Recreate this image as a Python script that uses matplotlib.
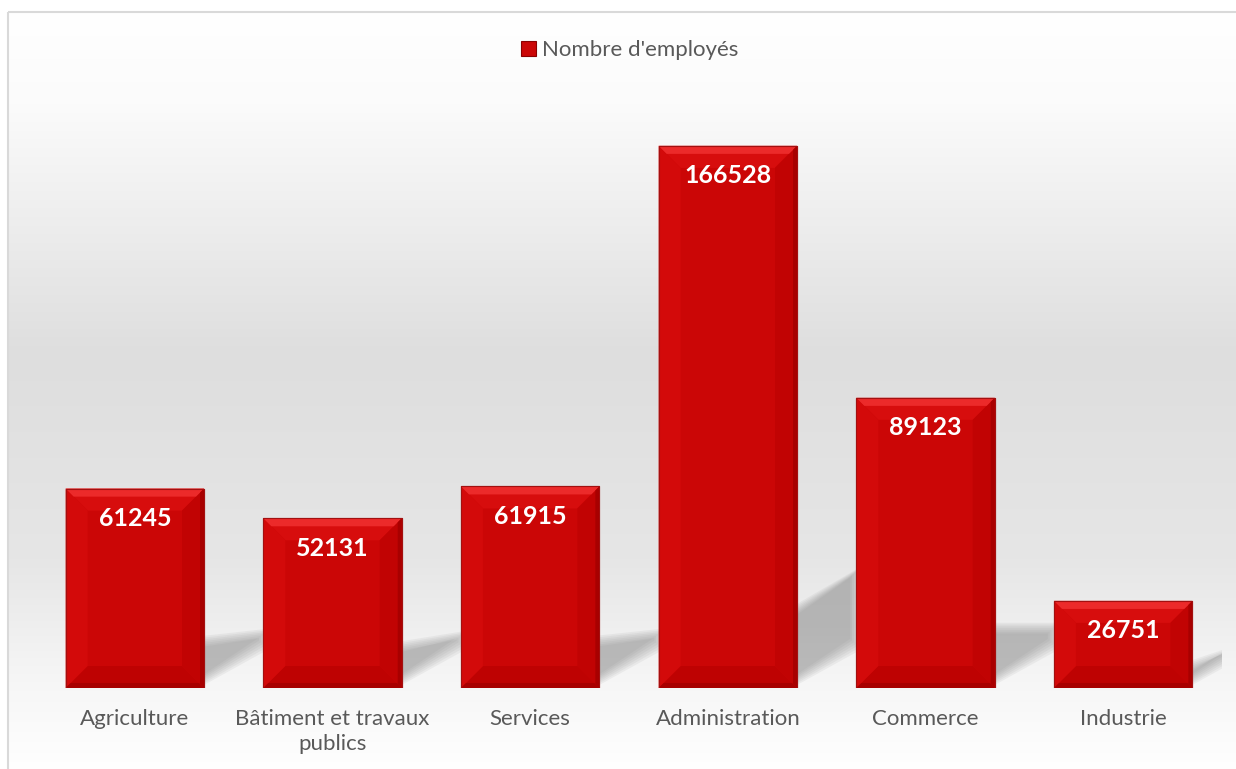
import matplotlib
matplotlib.use('Agg')
import matplotlib.pyplot as plt, numpy as np
from matplotlib.patches import Polygon, Rectangle
from matplotlib.colors import LinearSegmentedColormap

# Data
categories = ['Agriculture', 'Bâtiment et travaux\npublics', 'Services',
	'Administration', 'Commerce', 'Industrie']
employees = [61245, 52131, 61915, 166528, 89123, 26751]
series_name = "Nombre d'employés"

plt.rcParams['font.family'] = ['Lato', 'DejaVu Sans']

W, H = 1236, 769
fig = plt.figure(figsize=(W/100, H/100), dpi=100)

# Background: chart area gradient (white -> grey -> white) and thin border
bg = fig.add_axes([0, 0, 1, 1], zorder=-2)
bg.set_axis_off()
cmap = LinearSegmentedColormap.from_list('bg', [(0.0, '#ffffff'), (0.12, '#fbfbfb'),
	(0.45, '#dedede'), (0.72, '#e6e6e6'), (0.88, '#f6f6f6'), (1.0, '#ffffff')])
grad = np.linspace(0, 1, 256).reshape(-1, 1)
bg.imshow(grad, aspect='auto', cmap=cmap, extent=[8, W + 5, H + 5, 12])
bg.set_xlim(0, W)
bg.set_ylim(H, 0)
bg.add_patch(Rectangle((8, 12), W, H, fill=False, edgecolor='#d9d9d9', lw=1.5))

# Main axes placed in pixels
left, right, base, top_px = 36, 1222, 688, 102
ax = fig.add_axes([left/W, 1 - base/H, (right-left)/W, (base-top_px)/H])
ax.patch.set_visible(False)
x = np.arange(len(categories))
ymax = 180000
ax.set_xlim(-0.5, len(categories) - 0.5)
ax.set_ylim(0, ymax)

# pixel -> data scale
sx = len(categories) / (right - left)
sy = ymax / (base - top_px)
bw = 0.70

# Soft shadows behind the bars (stacked translucent layers = blur)
for xi, v in zip(x, employees):
	xr = xi + bw/2
	hpx = v / sy
	t0 = 95*(1 - np.exp(-hpx/250))          # shadow thickness at the bar, px
	d = 64                                  # horizontal reach, px
	low_rise = 0.6*d
	top_rise = max(low_rise*np.clip((hpx - 300)/250, 0, 1), low_rise - 0.6*t0)
	for k in range(7):
		s = k*1.8
		lo0, hi0 = s + 3, max(t0 - s, s + 3)
		lo1, hi1 = low_rise + s, max(t0 + top_rise - s, low_rise + s)
		poly = [(xr, lo0*sy), (xr + (d - s)*sx, lo1*sy),
			(xr + (d - s)*sx, hi1*sy), (xr, hi0*sy)]
		ax.add_patch(Polygon(poly, closed=True, facecolor='#7a7a7a', edgecolor='none',
			alpha=0.085, zorder=1))

bars = ax.bar(x, employees, width=bw, color='#cb0606', edgecolor='#a31010', lw=0.8, zorder=3)

# Bevel facets on each bar
bpx = 22
for bar in bars:
	x0, w, h = bar.get_x(), bar.get_width(), bar.get_height()
	x1 = x0 + w
	bx, by = bpx*sx, min(bpx*sy, h/2)
	facets = [
		([(x0, h), (x1, h), (x1 - bx, h - by), (x0 + bx, h - by)], '#d70d0d'),
		([(x0, 0), (x1, 0), (x1 - bx, by), (x0 + bx, by)], '#be0202'),
		([(x0, 0), (x0, h), (x0 + bx, h - by), (x0 + bx, by)], '#d30a0a'),
		([(x1, 0), (x1, h), (x1 - bx, h - by), (x1 - bx, by)], '#c10303'),
	]
	for pts, c in facets:
		ax.add_patch(Polygon(pts, closed=True, facecolor=c, edgecolor='none', zorder=4))
	# bright rim along the top, darker rims on right and bottom
	ax.add_patch(Polygon([(x0, h), (x1, h), (x1 - 8*sx, h - 8*sy), (x0 + 8*sx, h - 8*sy)],
		closed=True, facecolor='#f03030', edgecolor='none', alpha=0.85, zorder=4))
	ax.add_patch(Polygon([(x0, 0), (x1, 0), (x1 - 5*sx, 5*sy), (x0 + 5*sx, 5*sy)],
		closed=True, facecolor='#a80000', edgecolor='none', zorder=4))
	ax.add_patch(Polygon([(x1, 0), (x1, h), (x1 - 4*sx, h - 4*sy), (x1 - 4*sx, 4*sy)],
		closed=True, facecolor='#a80000', edgecolor='none', zorder=4))
	ax.add_patch(Rectangle((x0, 0), w, h, fill=False, edgecolor='#a31010', lw=0.8, zorder=5))
	ax.text(x0 + w/2, h - 30*sy, str(int(h)), ha='center', va='center', color='white',
		fontsize=18, fontweight='bold', zorder=6)

ax.set_xticks(x)
ax.set_xticklabels(categories, fontsize=16, color='#595959', linespacing=1.35)
ax.tick_params(axis='x', length=0, pad=15)
ax.set_yticks([])
for s in ax.spines.values():
	s.set_visible(False)
for lbl in ax.get_xticklabels():
	lbl.set_verticalalignment('top')

# Legend
handle = Rectangle((0, 0), 1, 1, facecolor='#cb0606', edgecolor='#8a0000', lw=0.8)
fig.legend([handle], [series_name], loc='center', bbox_to_anchor=(630/W, 1 - 50/H),
	frameon=False, fontsize=16, labelcolor='#595959', handlelength=0.65,
	handleheight=0.65, handletextpad=0.3)

fig.savefig('out.png', dpi=100)
